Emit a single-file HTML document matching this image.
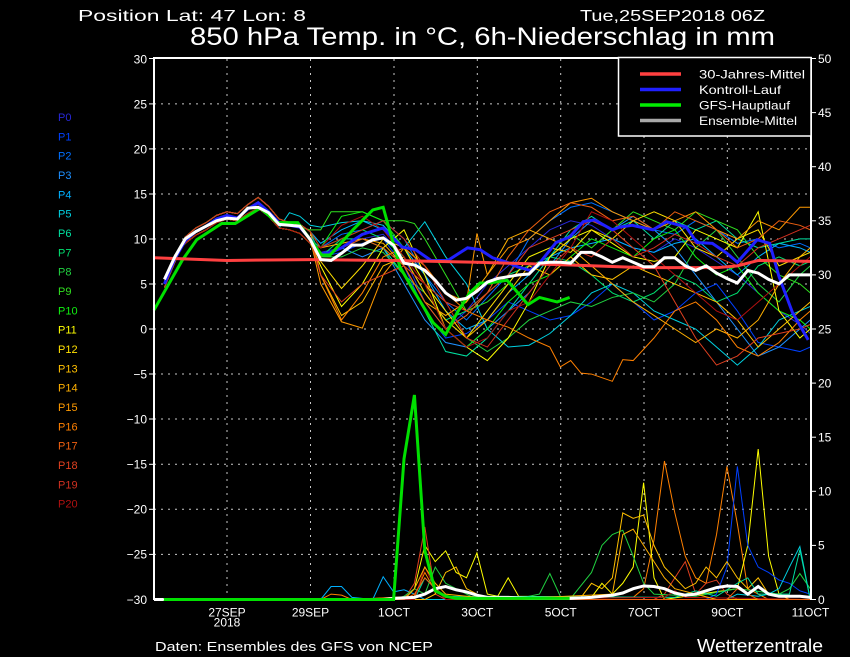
<!DOCTYPE html>
<html><head><meta charset="utf-8"><style>
html,body{margin:0;padding:0;background:#000;}
svg{display:block;}
polyline{fill:none;vector-effect:non-scaling-stroke;stroke-linejoin:miter;}
text{font-family:"Liberation Sans",sans-serif;fill:#fff;}
</style></head><body>
<svg width="850" height="657" viewBox="0 0 850 657" xmlns="http://www.w3.org/2000/svg">
<rect x="0" y="0" width="850" height="657" fill="#000"/>

<!-- header text -->
<text x="78" y="21" font-size="16" textLength="228" lengthAdjust="spacingAndGlyphs">Position  Lat: 47 Lon: 8</text>
<text x="580" y="21" font-size="16" textLength="185" lengthAdjust="spacingAndGlyphs">Tue,25SEP2018 06Z</text>
<text x="190" y="45" font-size="25" textLength="585" lengthAdjust="spacingAndGlyphs">850 hPa Temp. in °C, 6h-Niederschlag in mm</text>

<!-- grid -->
<g stroke="#c8c8c8" stroke-width="1" stroke-dasharray="2,5">
<line x1="154" y1="103.9" x2="811" y2="103.9"/>
<line x1="154" y1="148.9" x2="811" y2="148.9"/>
<line x1="154" y1="194" x2="811" y2="194"/>
<line x1="154" y1="239" x2="811" y2="239"/>
<line x1="154" y1="284" x2="811" y2="284"/>
<line x1="154" y1="329" x2="811" y2="329"/>
<line x1="154" y1="374" x2="811" y2="374"/>
<line x1="154" y1="419" x2="811" y2="419"/>
<line x1="154" y1="464.3" x2="811" y2="464.3"/>
<line x1="154" y1="509.3" x2="811" y2="509.3"/>
<line x1="154" y1="554.4" x2="811" y2="554.4"/>
<line x1="227" y1="59" x2="227" y2="600"/>
<line x1="310.5" y1="59" x2="310.5" y2="600"/>
<line x1="394" y1="59" x2="394" y2="600"/>
<line x1="477.3" y1="59" x2="477.3" y2="600"/>
<line x1="560.7" y1="59" x2="560.7" y2="600"/>
<line x1="644" y1="59" x2="644" y2="600"/>
<line x1="727.3" y1="59" x2="727.3" y2="600"/>
</g>

<!-- temperature members -->
<g transform="matrix(10.417,0,0,-9.017,154,329)" stroke-width="1">
<polyline stroke="#2828d8" points="1,5 2,7.8 3,9.8 4,10.8 5,11.4 6,12.2 7,12.6 8,12.3 9,13.3 10,14 11,13 12,11.8 13,11.5 14,11.3 15,10 16,8.5 18,9 20,10 22,10.5 24,8 26,3 28,0 30,2 32,5 34,7 36,9 38,11 40,12 42,11.5 44,10 46,9 48,8.5 50,10 52,9 54,7.5 56,6 58,4 60,2 62,0.5 63,-0.5"/>
<polyline stroke="#0040ff" points="1,4.6 2,7.4 3,10.2 4,11.2 5,11.8 6,12.6 7,13 8,12.8 9,13.8 10,14.6 11,13.6 12,12.2 13,11.8 14,11.6 15,10.8 16,8 18,8.5 20,9.5 22,10 24,7 26,2 28,-1 30,-0.5 32,1 34,3 36,2 38,1 40,1.5 42,3 44,5 46,3 48,1 50,2 52,4 54,5 56,2 58,-1.5 60,-2 62,-2.5 63,-2"/>
<polyline stroke="#0070ff" points="1,5.3 2,8.2 3,9.5 4,10.4 5,11 6,11.8 7,12.2 8,12 9,12.8 10,13.4 11,12.5 12,11.2 13,11 14,10.6 15,9.5 16,9 18,10.5 20,11 22,12 24,10 26,6 28,3 30,1 32,3.5 34,6 36,10 38,12 40,13.5 42,14 44,13 46,12 48,11 50,10.5 52,12 54,11 56,9.5 58,10 60,9 62,9.5 63,9"/>
<polyline stroke="#1e90ff" points="1,5 2,7.8 3,9.8 4,10.8 5,11.4 6,12.2 7,12.6 8,12.3 9,13.3 10,14 11,13 12,11.8 13,11.5 14,11.3 15,10 16,8 18,9 20,8 22,9 24,5 26,1 28,-1.5 30,-2 32,0 34,2 36,4 38,7 40,10 42,12 44,11 46,12.5 48,11 50,9 52,6 54,3 56,0 58,-3 60,-2 62,0 63,1"/>
<polyline stroke="#00b0ff" points="1,4.6 2,7.4 3,10.2 4,11.2 5,11.8 6,12.6 7,13 8,12.8 9,13.8 10,14.6 11,13.6 12,12.2 13,11.8 14,11.6 15,10.8 16,9.5 18,11 20,12 22,11 24,9 26,6 28,2 30,0 32,1 34,4 36,6 38,8 40,9 42,9.5 44,10 46,9 48,8.5 50,9.5 52,10 54,8 56,6 58,8 60,9.5 62,9 63,8.5"/>
<polyline stroke="#00d0e0" points="1,5.3 2,8.2 3,9.5 4,10.4 5,11 6,11.8 7,12.2 8,12 9,12.8 10,13.4 11,12.5 12,11.2 13,12.9 14,12.5 15,11.5 16,11.3 18,11.8 20,12 22,11.5 24,9 26,11.9 28,8 30,5 32,0 34,-2 36,-1.8 38,-0.5 40,1.5 42,4 44,5 46,4 48,2 50,1 52,0 54,-2 56,-4 58,-2 60,1 62,2 63,2.5"/>
<polyline stroke="#00e0a0" points="1,5 2,7.8 3,9.8 4,10.8 5,11.4 6,12.2 7,12.6 8,12.3 9,13.3 10,14 11,13 12,11.8 13,11.5 14,11.3 15,10 16,9 18,10 20,10 22,9 24,6 26,2 28,-2.5 30,-3 32,-1 34,2 36,5 38,8 40,11 42,12.5 44,11 46,12 48,10 50,12 52,11 54,12 56,10 58,9 60,9.5 62,10 63,10"/>
<polyline stroke="#00e070" points="1,4.6 2,7.4 3,10.2 4,11.2 5,11.8 6,12.6 7,13 8,12.8 9,13.8 10,14.6 11,13.6 12,12.2 13,11.8 14,11.6 15,10.8 16,8 18,10 20,11 22,10 24,8 26,4 28,1 30,2 32,4 34,6 36,7 38,8 40,7.5 42,6 44,4 46,3 48,4 50,6 52,5 54,3 56,4 58,7 60,8 62,7 63,7.5"/>
<polyline stroke="#20d040" points="1,5.3 2,8.2 3,9.5 4,10.4 5,11 6,11.8 7,12.2 8,12 9,12.8 10,13.4 11,12.5 12,11.2 13,11 14,10.6 15,9.5 16,8 18,8 20,9 22,8.5 24,6 26,4 28,1 30,-1 32,-2.5 34,-1 36,1 38,2 40,3 42,2.5 44,3.5 46,4 48,3 50,5 52,9 54,11 56,8 58,5 60,3 62,6 63,7"/>
<polyline stroke="#30e020" points="1,5 2,7.8 3,9.8 4,10.8 5,11.4 6,12.2 7,12.6 8,12.3 9,13.3 10,14 11,13 12,11.8 13,11.5 14,11.3 15,11 16,11 17,13 18,13 20,13 22,12 24,12 25,11.7 26,10 28,6 30,2 32,3 34,5 36,8 38,9 40,10.5 42,9 44,11 46,13 48,12 50,11 52,13 54,12 56,11 58,8 60,6 62,5 63,4"/>
<polyline stroke="#10f010" points="1,4.6 2,7.4 3,10.2 4,11.2 5,11.8 6,12.6 7,13 8,12.8 9,13.8 10,14.6 11,13.6 12,12.2 13,11.8 14,11.6 15,10.8 16,9 18,12.5 20,13 22,12 24,9 26,5 28,0 30,-2 32,0 34,3 36,5 38,6 40,8 42,10 44,9 46,8 48,10 50,11 52,8 54,6 56,7 58,4 60,2 62,1 63,0"/>
<polyline stroke="#ffff00" points="1,5.3 2,8.2 3,9.5 4,10.4 5,11 6,11.8 7,12.2 8,12 9,12.8 10,13.4 11,12.5 12,11.2 13,11 14,10.6 15,9.5 16,7 18,2.5 20,5 22,9 24,11 26,6 28,0 30,-2 32,-3.5 34,-1 36,3 38,8 40,10 42,11 44,9.5 46,8 48,7.5 50,8 52,11 54,10 56,9 58,13 60,2 62,-1 63,0"/>
<polyline stroke="#ffe000" points="1,5 2,7.8 3,9.8 4,10.8 5,11.4 6,12.2 7,12.6 8,12.3 9,13.3 10,14 11,13 12,11.8 13,11.5 14,11.3 15,10 16,7.5 18,4.5 20,7 22,10 24,9 26,5 28,2 30,-1 32,2 34,5 36,8 38,9 40,8.5 42,11 44,10 46,12 48,13 50,12 52,9 54,8 56,10 58,11 60,7 62,8 63,8.5"/>
<polyline stroke="#ffc000" points="1,4.6 2,7.4 3,10.2 4,11.2 5,11.8 6,12.6 7,13 8,12.8 9,13.8 10,14.6 11,13.6 12,12.2 13,11.8 14,11.6 15,10.8 16,6 18,1.5 20,3 22,7 24,8 26,4 28,1 30,-1 32,1 34,4 36,7 38,6 40,8 42,6 44,5.5 46,7 48,6 50,5 52,4 54,3 56,1 58,-2 60,0 62,2 63,3"/>
<polyline stroke="#ffb000" points="1,5.3 2,8.2 3,9.5 4,10.4 5,11 6,11.8 7,12.2 8,12 9,12.8 10,13.4 11,12.5 12,11.2 13,11 14,10.6 15,9.5 16,9 18,9.5 20,10 22,9.5 24,7 26,3 28,1.5 30,3 32,6 34,10 36,11 38,10 40,9 42,7 44,5 46,3 48,1.5 50,0 52,-1.5 54,0 56,-1 58,1 60,5 62,8 63,9"/>
<polyline stroke="#ff9a00" points="1,5 2,7.8 3,9.8 4,10.8 5,11.4 6,12.2 7,12.6 8,12.3 9,13.3 10,14 11,13 12,11.8 13,11.5 14,11.3 15,10 16,5 18,0.8 20,0.1 22,6 24,9 26,7 28,4 30,3 31,10.6 32,6 34,9 36,10 38,12 40,14 42,14.5 44,13 46,12 48,11 50,12 52,13 54,11 56,10 58,12 60,11 62,13.5 63,13.5"/>
<polyline stroke="#ff8000" points="1,4.6 2,7.4 3,10.2 4,11.2 5,11.8 6,12.6 7,13 8,12.8 9,13.8 10,14.6 11,13.6 12,12.2 13,11.8 14,11.6 15,10.8 16,6 18,1 20,4 22,8 24,9 26,7 28,4 30,2 32,1 34,0.2 36,-1 38,-2 39,-4.2 40,-3.5 41,-4.9 42,-5 44,-5.8 45,-3.4 46,-3.5 48,-1 50,2 52,3 54,1 56,-2 58,-3 60,-1.5 62,1 63,2"/>
<polyline stroke="#f06010" points="1,5.3 2,8.2 3,9.5 4,10.4 5,11 6,11.8 7,12.2 8,12 9,12.8 10,13.4 11,12.5 12,11.2 13,11 14,10.6 15,9.5 16,8 18,9 20,10 22,9 24,7 26,3 28,0 30,1.5 32,4 34,8 36,11 38,13 40,14 42,13.5 44,12 46,12.5 48,11 50,13 52,12 54,11 56,9 58,10 60,12 62,11.5 63,11"/>
<polyline stroke="#e04020" points="1,5 2,7.8 3,9.8 4,10.8 5,11.4 6,12.2 7,12.6 8,12.3 9,13.3 10,14 11,13 12,11.8 13,11.5 14,11.3 15,10 16,6 18,3 20,5 22,6 24,7 26,5 28,3 30,2 32,4 34,6 36,9 38,10 40,11 42,12 44,11 46,9 48,7 50,3 52,-1 54,-4 56,-3 58,-1 60,-0.5 62,0 63,0.5"/>
<polyline stroke="#d03020" points="1,4.6 2,7.4 3,10.2 4,11.2 5,11.8 6,12.6 7,13 8,12.8 9,13.8 10,14.6 11,13.6 12,12.2 13,11.8 14,11.6 15,10.8 16,9 18,10 20,11 22,12 24,10 26,7 28,3 30,-1 32,-2 34,1 36,4 38,7 40,9 42,8 44,10 46,8 48,9 50,10.5 52,9.5 54,8 56,7 58,9 60,10 62,11 63,11.5"/>
<polyline stroke="#b01010" points="1,5.3 2,8.2 3,9.5 4,10.4 5,11 6,11.8 7,12.2 8,12 9,12.8 10,13.4 11,12.5 12,11.2 13,11 14,10.6 15,9.5 16,9 18,11.5 20,12.5 22,11 24,8 26,5 28,0 30,-2 32,-1 34,2 36,3 38,6 40,9 42,13 44,12 46,10 48,8 50,6 52,4 54,2 56,1 58,3 60,5 62,7 63,8"/>
</g>

<!-- precipitation members -->
<g transform="matrix(10.417,0,0,-10.82,154,599.5)" stroke-width="1">
<polyline stroke="#00b0ff" points="1,0 16,0 17,1.2 18,1.2 19,0.2 21,0 22,2.1 23,0.7 24,0.9 25,0.5 26,0 63,0"/>
<polyline stroke="#ff8000" points="1,0 16,0 17,0.5 18,0.4 19,0 25,0.3 26,2.5 27,0.8 28,0.2 46,0.2 47,1 48,5.5 49,12.8 50,8 51,4 52,2 53,1.5 54,6 55,12.3 56,7 57,1 58,0.5 59,0 63,0"/>
<polyline stroke="#ffff00" points="1,0 24,0 25,1 26,5 27,3.5 28,4.5 29,2.5 30,2 31,4.3 32,0.5 33,0.3 34,2 35,0.3 42,0.2 43,1.5 44,0.5 45,1.5 46,3 47,10.8 48,2 49,0 56,1 57,5 58,13.9 59,4 60,0.5 61,0 63,0"/>
<polyline stroke="#e04020" points="1,0 24,0 25,1.5 26,6.7 27,0.5 28,0 48,0 49,0.5 50,2 51,3.5 52,0.5 53,1.5 54,1.8 55,0.5 56,0 63,0"/>
<polyline stroke="#20d040" points="1,0 23,0 24,0.3 25,1 26,0.5 27,3 28,1.5 29,1 30,0.5 31,0 35,0 36,0.3 37,0.5 38,2.4 39,0.3 40,0.1 42,2.5 43,5 44,6 45,6.4 46,4 47,1.5 48,0.5 52,0.3 56,1 60,0.5 61,1 62,2.4 63,1"/>
<polyline stroke="#0040ff" points="1,0 53,0 54,0.5 55,3 56,12.3 57,5 58,3 59,2.5 60,1.8 61,1.5 62,0.8 63,0.5"/>
<polyline stroke="#00d0e0" points="1,0 55,0 56,0.5 58,0.3 59,0.5 60,1 61,3 62,4.9 63,0"/>
<polyline stroke="#ffc000" points="1,0 26,0 27,0.5 28,2.5 29,3 30,1 31,0.5 32,0 41,0.2 42,1.5 43,1 44,2 45,8 46,7.5 47,7.8 48,5 49,3 50,2 51,1 52,1.5 53,3 54,2 55,3.5 56,2 57,1 58,2 59,0.5 60,0.5 61,0 63,0"/>
<polyline stroke="#00e0a0" points="1,0 25,0 26,2 27,1 28,0.3 50,0.2 52,0.8 54,0.3 56,1.5 57,2 58,0.5 61,0.5 62,4.6 63,0"/>
<polyline stroke="#b01010" points="1,0 25,0 26,3 27,1 28,0 49,0.2 50,0.8 51,0.2 63,0"/>
<polyline stroke="#ffb000" points="1,0 24,0 25,1 26,3 27,1.5 28,0.5 30,0.3 33,0 44,0.5 45,6 46,6.5 47,5 48,3.5 49,2 50,1 52,0.5 54,0 63,0"/>
<polyline stroke="#f06010" points="1,0 24,0 25,0.5 26,2 27,1 28,0.3 30,0 55,0 56,1 57,0.5 58,0 63,0"/>
<!-- mean precip -->
<polyline stroke="#ffffff" stroke-width="3" points="0,0 22,0 23,0.1 25,0.2 26,0.5 27,1 28,1.2 29,0.9 30,0.7 31,0.4 32,0.2 34,0.2 36,0.1 40,0.1 42,0.2 43,0.3 44,0.4 45,0.6 46,1 47,1.25 48,1.2 49,1 50,0.6 51,0.4 52,0.5 53,0.8 54,1.1 55,1.25 56,1.2 57,0.5 58,1.2 59,0.5 60,0.3 62,0.3 63,0.2"/>
<!-- GFS main precip -->
<polyline stroke="#00e000" stroke-width="3" points="0.9,0 23,0 24,13 25,18.9 26,4.5 27,0.8 28,0.3 29,0.1 39.9,0.1"/>
</g>

<!-- temperature main lines -->
<g transform="matrix(10.417,0,0,-9.017,154,329)">
<polyline stroke="#2020ff" stroke-width="3" points="1,5 2,7.8 3,9.8 4,10.8 5,11.4 6,12.2 7,12.6 8,12.3 9,13.3 10,14 11,13 12,11.8 13,11.5 14,11.3 15,10 16,8.3 17,8.5 18,9 20,10.5 22,11.2 23.8,9.1 25.1,8.8 26.6,7.6 28.2,7.6 30.1,9 31.3,8.8 32.5,7.9 33.9,7.4 34.9,6.9 36.1,6.5 37,7.3 38.6,9.6 39.9,10.2 41.2,11.9 42.3,12.1 44,11 44.7,11.3 45.9,11.5 47.9,11 49.2,11.9 51.1,11.3 52.1,9.6 53.6,9.5 55,8.4 56,7.4 57.9,9.9 59.1,9.5 60,5.8 61.3,1.8 62.8,-1.2"/>
<polyline stroke="#00e000" stroke-width="3" points="0,2.1 2.7,7.6 4.1,9.9 6.5,11.7 7.8,11.7 10.2,13.4 11.8,11.8 13.8,11.8 16.1,8.2 16.9,8.2 19.1,11 21,13.2 22,13.5 23.6,6.9 24.9,4.3 26.8,0.7 28,-0.6 29.1,1.8 30.3,4 31.3,5.1 32.2,5.1 33.9,5.4 35.9,2.7 37,3.5 38.7,3 39.9,3.5"/>
<polyline stroke="#ff4040" stroke-width="3" points="0,7.9 7,7.6 15,7.7 23,7.6 31,7.4 40,7.1 47,6.8 54,6.8 56,7 58,7.6 63,7.5"/>
<polyline stroke="#ffffff" stroke-width="3" points="1,5.5 2,8 3,10 4,10.8 5,11.4 6,12 7,12.3 8,12.2 9,13.4 10,13.5 11,12.9 12,11.6 13,11.5 14,11.4 15,9.9 16,7.7 17,7.6 18,8.4 19,9.3 20,9.3 21,9.9 22,10.1 23,9.3 24,7.3 25,7.1 26,6.5 27,5.4 28,4 29,3.2 30,3.4 31,4.2 32,5.2 33,5.6 34,5.8 35,6 36,6.1 37,7.3 38,7.4 39,7.4 40,7.3 41,8.5 42,8.5 43,8 44,7.4 45,7.9 46,7.4 47,6.9 48,6.9 49,7.9 50,7.9 51,7 52,6.5 53,7 54,6.2 55,5.6 56,5.1 57,6.5 58,6.2 59,5.5 60,5 61,6 62,6 63,6"/>
</g>

<!-- frame -->
<g stroke="#fff" stroke-width="2">
<line x1="154" y1="58" x2="154" y2="600"/>
<line x1="153" y1="58" x2="619" y2="58"/>
<line x1="811" y1="57" x2="811" y2="600"/>
<line x1="154" y1="599.5" x2="164" y2="599.5"/>
</g>

<!-- legend -->
<rect x="618.5" y="57.5" width="192.5" height="78.5" fill="#000" stroke="#fff" stroke-width="1.5"/>
<g stroke-width="3.5">
<line x1="640" y1="74" x2="681" y2="74" stroke="#ff4040"/>
<line x1="640" y1="89.5" x2="681" y2="89.5" stroke="#2020ff"/>
<line x1="640" y1="105" x2="681" y2="105" stroke="#00ee00"/>
<line x1="640" y1="120.5" x2="681" y2="120.5" stroke="#a8a8a8"/>
</g>
<g font-size="12">
<text x="699" y="78.5" textLength="106" lengthAdjust="spacingAndGlyphs">30-Jahres-Mittel</text>
<text x="699" y="94" textLength="82" lengthAdjust="spacingAndGlyphs">Kontroll-Lauf</text>
<text x="699" y="109.5" textLength="91" lengthAdjust="spacingAndGlyphs">GFS-Hauptlauf</text>
<text x="699" y="125" textLength="98" lengthAdjust="spacingAndGlyphs">Ensemble-Mittel</text>
</g>

<!-- ticks -->
<g stroke="#fff" stroke-width="1">
<line x1="149" y1="58.5" x2="154" y2="58.5"/><line x1="149" y1="103.9" x2="154" y2="103.9"/>
<line x1="149" y1="148.9" x2="154" y2="148.9"/><line x1="149" y1="194" x2="154" y2="194"/>
<line x1="149" y1="239" x2="154" y2="239"/><line x1="149" y1="284" x2="154" y2="284"/>
<line x1="149" y1="329" x2="154" y2="329"/><line x1="149" y1="374" x2="154" y2="374"/>
<line x1="149" y1="419" x2="154" y2="419"/><line x1="149" y1="464.3" x2="154" y2="464.3"/>
<line x1="149" y1="509.3" x2="154" y2="509.3"/><line x1="149" y1="554.4" x2="154" y2="554.4"/>
<line x1="811" y1="58.5" x2="816" y2="58.5"/><line x1="811" y1="112.6" x2="816" y2="112.6"/>
<line x1="811" y1="166.7" x2="816" y2="166.7"/><line x1="811" y1="220.8" x2="816" y2="220.8"/>
<line x1="811" y1="274.9" x2="816" y2="274.9"/><line x1="811" y1="329" x2="816" y2="329"/>
<line x1="811" y1="383.1" x2="816" y2="383.1"/><line x1="811" y1="437.2" x2="816" y2="437.2"/>
<line x1="811" y1="491.3" x2="816" y2="491.3"/><line x1="811" y1="545.4" x2="816" y2="545.4"/>
<line x1="811" y1="599.5" x2="816" y2="599.5"/>
</g>
<g font-size="12" text-anchor="end">
<text x="147" y="63.5">30</text>
<text x="147" y="108.5">25</text>
<text x="147" y="153.5">20</text>
<text x="147" y="198.5">15</text>
<text x="147" y="243.5">10</text>
<text x="147" y="288.5">5</text>
<text x="147" y="333.5">0</text>
<text x="147" y="378.5">−5</text>
<text x="147" y="423.5">−10</text>
<text x="147" y="468.5">−15</text>
<text x="147" y="513.5">−20</text>
<text x="147" y="558.5">−25</text>
<text x="147" y="604">−30</text>
</g>
<g font-size="12">
<text x="818" y="63">50</text>
<text x="818" y="117">45</text>
<text x="818" y="171">40</text>
<text x="818" y="225">35</text>
<text x="818" y="279">30</text>
<text x="818" y="333.5">25</text>
<text x="818" y="387.5">20</text>
<text x="818" y="441.5">15</text>
<text x="818" y="495.5">10</text>
<text x="818" y="549.5">5</text>
<text x="818" y="604">0</text>
</g>

<!-- bottom labels -->
<g font-size="12" text-anchor="middle">
<text x="227" y="616.5">27SEP</text>
<text x="227" y="626.5">2018</text>
<text x="310.5" y="616.5">29SEP</text>
<text x="394" y="616.5">1OCT</text>
<text x="477.3" y="616.5">3OCT</text>
<text x="560.7" y="616.5">5OCT</text>
<text x="644" y="616.5">7OCT</text>
<text x="727.3" y="616.5">9OCT</text>
<text x="810.5" y="616.5">11OCT</text>
</g>
<text x="155" y="651" font-size="13" textLength="278" lengthAdjust="spacingAndGlyphs">Daten: Ensembles des GFS von NCEP</text>
<text x="697" y="652" font-size="18" textLength="126" lengthAdjust="spacingAndGlyphs">Wetterzentrale</text>

<!-- member labels -->
<g font-size="11">
<text x="58" y="121" style="fill:#2828d8">P0</text>
<text x="58" y="140.3" style="fill:#0040ff">P1</text>
<text x="58" y="159.7" style="fill:#0070ff">P2</text>
<text x="58" y="179" style="fill:#1e90ff">P3</text>
<text x="58" y="198.3" style="fill:#00b0ff">P4</text>
<text x="58" y="217.7" style="fill:#00d0e0">P5</text>
<text x="58" y="237" style="fill:#00e0a0">P6</text>
<text x="58" y="256.3" style="fill:#00e070">P7</text>
<text x="58" y="275.7" style="fill:#20d040">P8</text>
<text x="58" y="295" style="fill:#30e020">P9</text>
<text x="58" y="314.3" style="fill:#10f010">P10</text>
<text x="58" y="333.7" style="fill:#ffff00">P11</text>
<text x="58" y="353" style="fill:#ffe000">P12</text>
<text x="58" y="372.3" style="fill:#ffc000">P13</text>
<text x="58" y="391.7" style="fill:#ffb000">P14</text>
<text x="58" y="411" style="fill:#ff9a00">P15</text>
<text x="58" y="430.3" style="fill:#ff8000">P16</text>
<text x="58" y="449.7" style="fill:#f06010">P17</text>
<text x="58" y="469" style="fill:#e04020">P18</text>
<text x="58" y="488.3" style="fill:#d03020">P19</text>
<text x="58" y="507.7" style="fill:#b01010">P20</text>
</g>
</svg>
</body></html>
